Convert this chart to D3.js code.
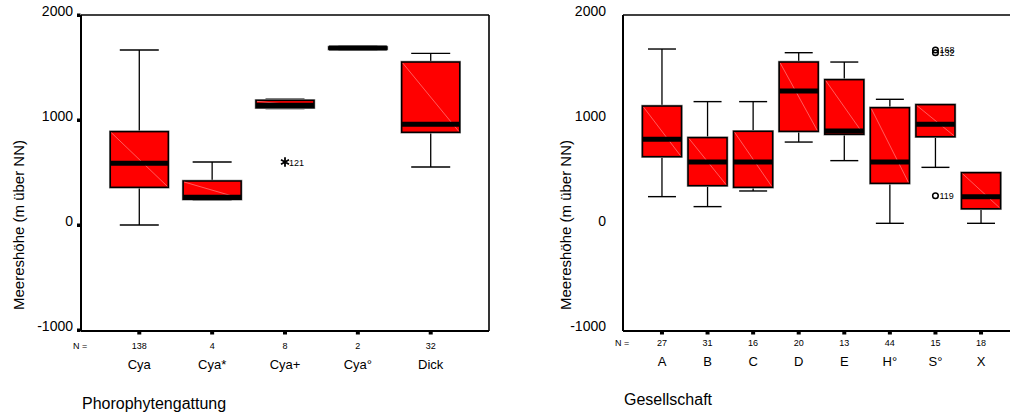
<!DOCTYPE html>
<html>
<head>
<meta charset="utf-8">
<script src="https://cdn.jsdelivr.net/npm/d3@7"></script>
<style>
  body { margin: 0; background: #fff; }
  text { font-family: "Liberation Sans", Arial, sans-serif; fill: #000; }
</style>
</head>
<body>
<svg id="chart" width="1010" height="418"></svg>
<script>
// left chart data (Phorophytengattung)
var leftCats = ["Cya", "Cya*", "Cya+", "Cya°", "Dick"];
var leftN    = [138, 4, 8, 2, 32];
var leftMin  = [0, 240, 1110, 1670, 552];
var leftQ1   = [359, 245, 1117, 1675, 883];
var leftMed  = [587, 265, 1140, 1685, 959];
var leftQ3   = [889, 419, 1187, 1695, 1552];
var leftMax  = [1667, 600, 1197, 1700, 1635];
var leftOut  = [{cat: "Cya+", v: 600, id: "121", sym: "star"}];

// right chart data (Gesellschaft)
var rightCats = ["A", "B", "C", "D", "E", "H°", "S°", "X"];
var rightN    = [27, 31, 16, 20, 13, 44, 15, 18];
var rightMin  = [270, 175, 324, 790, 613, 16, 549, 16];
var rightQ1   = [651, 375, 359, 892, 864, 397, 841, 155];
var rightMed  = [816, 600, 600, 1276, 895, 600, 959, 270];
var rightQ3   = [1133, 832, 892, 1552, 1384, 1117, 1146, 498];
var rightMax  = [1676, 1175, 1175, 1641, 1552, 1197, 1146, 498];
var rightOut  = [
  {cat: "S°", v: 1667, id: "168", sym: "circle"},
  {cat: "S°", v: 1640, id: "132", sym: "circle"},
  {cat: "S°", v: 279, id: "119", sym: "circle"}
];

var yTicks = [-1000, 0, 1000, 2000];

var svg = d3.select("#chart");

function drawPanel(o) {
  var g = svg.append("g");
  var y = d3.scaleLinear().domain([-1000, 2000]).range([330, 15]);
  var x = d3.scalePoint().domain(o.cats).range([o.x0, o.x1]).padding(o.pad);

  // frame
  g.append("line").attr("x1", o.x0).attr("x2", o.frameRight).attr("y1", 15).attr("y2", 15)
    .attr("stroke", "#000").attr("stroke-width", 1.6);
  g.append("line").attr("x1", o.x0).attr("x2", o.frameRight).attr("y1", 331).attr("y2", 331)
    .attr("stroke", "#000").attr("stroke-width", 2);
  g.append("line").attr("x1", o.x0).attr("x2", o.x0).attr("y1", 15).attr("y2", 331)
    .attr("stroke", "#000").attr("stroke-width", 2);
  if (o.rightBorder) {
    g.append("line").attr("x1", o.frameRight).attr("x2", o.frameRight).attr("y1", 15).attr("y2", 331)
      .attr("stroke", "#000").attr("stroke-width", 1.6);
  }

  // y axis labels
  var yAxis = d3.axisLeft(y).tickValues(yTicks).tickSize(0).tickPadding(o.squares ? 8 : 17)
    .tickFormat(function(d) { return String(d); });
  var ya = g.append("g").attr("transform", "translate(" + o.x0 + ",0)").call(yAxis);
  ya.select(".domain").remove();
  ya.selectAll("text").attr("font-size", 14).attr("dy", "0.05em")
    .style("font-family", "Liberation Sans, Arial, sans-serif");
  if (o.squares) {
    g.selectAll(".ysq").data(yTicks).enter().append("rect")
      .attr("x", o.x0 - 4).attr("y", function(d) { return y(d) - 1.5; })
      .attr("width", 3.5).attr("height", 3.5).attr("fill", "#000");
  }

  // x squares under axis
  g.selectAll(".xsq").data(o.cats).enter().append("rect")
    .attr("x", function(d) { return x(d) - 2; }).attr("y", 331)
    .attr("width", 4).attr("height", 3.5).attr("fill", "#000");

  // N labels
  g.append("text").attr("x", o.x0 - 8).attr("y", o.nY).attr("font-size", 9)
    .attr("text-anchor", "start").text("N =");
  g.selectAll(".nlab").data(o.cats).enter().append("text")
    .attr("x", function(d) { return x(d); }).attr("y", o.nY)
    .attr("font-size", 9).attr("text-anchor", "middle")
    .text(function(d, i) { return o.n[i]; });
  g.selectAll(".clab").data(o.cats).enter().append("text")
    .attr("x", function(d) { return x(d); }).attr("y", o.cY)
    .attr("font-size", 13).attr("text-anchor", "middle")
    .text(function(d) { return d; });

  // titles
  g.append("text").attr("x", o.x0 + 1).attr("y", o.tY).attr("font-size", 16).text(o.xTitle);
  g.append("text").attr("transform", "translate(" + o.yTitleX + ",225) rotate(-90)")
    .attr("font-size", 15).attr("text-anchor", "middle").text("Meereshöhe (m über NN)");

  var bw = o.boxW, cw = o.capW;
  var boxes = g.selectAll(".box").data(o.cats).enter().append("g");

  // whiskers
  boxes.append("line").attr("x1", function(d) { return x(d); }).attr("x2", function(d) { return x(d); })
    .attr("y1", function(d, i) { return y(o.max[i]); }).attr("y2", function(d, i) { return y(o.min[i]); })
    .attr("stroke", "#000").attr("stroke-width", 1.3);
  boxes.append("line").attr("x1", function(d) { return x(d) - cw / 2; }).attr("x2", function(d) { return x(d) + cw / 2; })
    .attr("y1", function(d, i) { return y(o.max[i]); }).attr("y2", function(d, i) { return y(o.max[i]); })
    .attr("stroke", "#000").attr("stroke-width", 1.4);
  boxes.append("line").attr("x1", function(d) { return x(d) - cw / 2; }).attr("x2", function(d) { return x(d) + cw / 2; })
    .attr("y1", function(d, i) { return y(o.min[i]); }).attr("y2", function(d, i) { return y(o.min[i]); })
    .attr("stroke", "#000").attr("stroke-width", 1.4);

  // box (grey halo then black outline)
  boxes.append("rect")
    .attr("x", function(d) { return x(d) - bw / 2; })
    .attr("y", function(d, i) { return y(o.q3[i]); })
    .attr("width", bw)
    .attr("height", function(d, i) { return y(o.q1[i]) - y(o.q3[i]); })
    .attr("fill", "#ff0000").attr("stroke", "#999").attr("stroke-width", 2.6);
  boxes.append("rect")
    .attr("x", function(d) { return x(d) - bw / 2; })
    .attr("y", function(d, i) { return y(o.q3[i]); })
    .attr("width", bw)
    .attr("height", function(d, i) { return y(o.q1[i]) - y(o.q3[i]); })
    .attr("fill", "#ff0000").attr("stroke", "#000").attr("stroke-width", 1.5);
  // faint diagonal artefact
  boxes.append("line")
    .attr("x1", function(d) { return x(d) - bw / 2 + 1; })
    .attr("y1", function(d, i) { return y(o.q3[i]) + 1; })
    .attr("x2", function(d) { return x(d) + bw / 2 - 1; })
    .attr("y2", function(d, i) { return y(o.q1[i]) - 1; })
    .attr("stroke", "#ff9a9a").attr("stroke-width", 0.6);
  // median
  boxes.append("line").attr("x1", function(d) { return x(d) - bw / 2; }).attr("x2", function(d) { return x(d) + bw / 2; })
    .attr("y1", function(d, i) { return y(o.med[i]); }).attr("y2", function(d, i) { return y(o.med[i]); })
    .attr("stroke", "#000").attr("stroke-width", 5);

  // outliers
  o.out.forEach(function(p) {
    var px = x(p.cat), py = y(p.v);
    if (p.sym === "star") {
      g.append("path").attr("d", d3.symbol(d3.symbolAsterisk, 60)())
        .attr("transform", "translate(" + px + "," + py + ")")
        .attr("fill", "none").attr("stroke", "#000").attr("stroke-width", 1.8);
    } else {
      g.append("circle").attr("cx", px).attr("cy", py).attr("r", 2.8)
        .attr("fill", "none").attr("stroke", "#000").attr("stroke-width", 1.5);
    }
    g.append("text").attr("x", px + 4).attr("y", py + 3.5).attr("font-size", 9).text(p.id);
  });
}

drawPanel({
  cats: leftCats, n: leftN, min: leftMin, q1: leftQ1, med: leftMed, q3: leftQ3, max: leftMax, out: leftOut,
  x0: 81, x1: 489, frameRight: 489, rightBorder: true, pad: 0.8, boxW: 58, capW: 39,
  squares: true, nY: 349, cY: 369, tY: 409, xTitle: "Phorophytengattung", yTitleX: 24
});

drawPanel({
  cats: rightCats, n: rightN, min: rightMin, q1: rightQ1, med: rightMed, q3: rightQ3, max: rightMax, out: rightOut,
  x0: 623, x1: 1020, frameRight: 1010, rightBorder: false, pad: 0.855, boxW: 39, capW: 28,
  squares: false, nY: 346, cY: 366, tY: 405, xTitle: "Gesellschaft", yTitleX: 571
});
</script>
</body>
</html>
